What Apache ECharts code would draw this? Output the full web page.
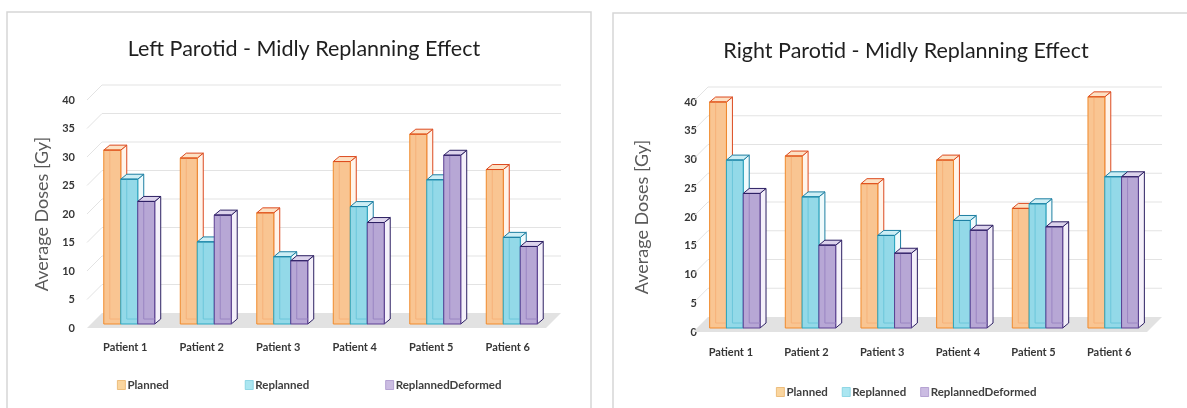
<!DOCTYPE html>
<html>
<head>
<meta charset="utf-8">
<script src="https://cdn.jsdelivr.net/npm/echarts@6/dist/echarts.min.js"></script>
<style>
  html, body { margin: 0; padding: 0; background: #ffffff; }
  #chart { width: 1187px; height: 408px; }
</style>
</head>
<body>
<div id="chart"></div>
<script>
// Patients on the category axis
const patients = ['Patient 1', 'Patient 2', 'Patient 3', 'Patient 4', 'Patient 5', 'Patient 6'];
const seriesNames = ['Planned', 'Replanned', 'ReplannedDeformed'];

// Left parotid average doses [Gy]
const leftPlanned   = [30.5, 29.1, 19.5, 28.5, 33.3, 27.1];
const leftReplanned = [25.4, 14.4, 11.8, 20.6, 25.3, 15.2];
const leftDeformed  = [21.5, 19.1, 11.1, 17.8, 29.6, 13.6];

// Right parotid average doses [Gy]
const rightPlanned   = [39.3, 29.9, 25.1, 29.2, 20.8, 40.2];
const rightReplanned = [29.2, 22.8, 16.1, 18.7, 21.6, 26.3];
const rightDeformed  = [23.4, 14.4, 13.0, 17.0, 17.6, 26.3];

// Value axis ticks
const doseTicks = [0, 5, 10, 15, 20, 25, 30, 35, 40];

const FONT = 'Lato, "Open Sans", sans-serif';

// Look of each prism-shaped bar
const barLook = [
  { front: '#F9C592', top: '#FDE1C4', side: '#FFF4EA', edge: '#F08A2C', rim: '#DC4A1F', back: '#F6B27A' },
  { front: '#93D9E8', top: '#CDEEF5', side: '#EFFAFC', edge: '#2AA6C0', rim: '#1D7FA2', back: '#6CC6DA' },
  { front: '#B7A7D5', top: '#DCD3EC', side: '#F4F0FA', edge: '#5A3E92', rim: '#2C1F62', back: '#9A86C2' }
];
const legendLook = [
  { color: '#FAD59E', borderColor: '#E9B36A' },
  { color: '#ABE6F1', borderColor: '#7FCFE0' },
  { color: '#CBBCE2', borderColor: '#A994CC' }
];

// Wall depth (back wall offset) and bar depth
const WALL = { dx: 15, dy: -15 };
const BAR_SHIFT = { dx: 4, dy: -4 };
const BAR_DEPTH = { dx: 6, dy: -5 };

function wallRenderer(params, api) {
  const cs = params.coordSys;
  const v = api.value(1);
  const y = api.coord([0, v])[1];
  const x0 = cs.x, x1 = cs.x + cs.width;
  const children = [];
  if (v === 0) {
    children.push({
      type: 'polygon',
      shape: { points: [[x0, y], [x1, y], [x1 + WALL.dx, y + WALL.dy], [x0 + WALL.dx, y + WALL.dy]] },
      style: { fill: '#E2E2E2' }
    });
  } else {
    children.push({
      type: 'line',
      shape: { x1: x0, y1: y, x2: x0 + WALL.dx, y2: y + WALL.dy },
      style: { stroke: '#E3E3E3', lineWidth: 1 }
    });
    children.push({
      type: 'line',
      shape: { x1: x0 + WALL.dx, y1: y + WALL.dy, x2: x1 + WALL.dx, y2: y + WALL.dy },
      style: { stroke: '#E3E3E3', lineWidth: 1 }
    });
  }
  return { type: 'group', children: children };
}

function barRenderer(slot) {
  const look = barLook[slot];
  return function (params, api) {
    const c = api.value(0), v = api.value(1);
    const base = api.coord([c, 0]);
    const top = api.coord([c, v]);
    const bw = api.size([1, 0])[0] * 0.222;
    const x = base[0] - 1.5 * bw + slot * bw + BAR_SHIFT.dx;
    const yb = base[1] + BAR_SHIFT.dy;
    const yt = top[1] + BAR_SHIFT.dy;
    const ddx = BAR_DEPTH.dx, ddy = BAR_DEPTH.dy;
    return {
      type: 'group',
      children: [
        { type: 'polygon',
          shape: { points: [[x + bw, yt], [x + bw + ddx, yt + ddy], [x + bw + ddx, yb + ddy], [x + bw, yb]] },
          style: { fill: look.side, stroke: look.rim, lineWidth: 1 } },
        { type: 'polygon',
          shape: { points: [[x, yt], [x + bw, yt], [x + bw + ddx, yt + ddy], [x + ddx, yt + ddy]] },
          style: { fill: look.top, stroke: look.rim, lineWidth: 1 } },
        { type: 'rect',
          shape: { x: x, y: yt, width: bw, height: yb - yt },
          style: { fill: look.front, stroke: look.edge, lineWidth: 1 } },
        { type: 'polyline',
          shape: { points: [[x + ddx, yt], [x + ddx, yb + ddy], [x + bw, yb + ddy]] },
          style: { fill: null, stroke: look.back, lineWidth: 1 } },
        { type: 'line',
          shape: { x1: x, y1: yt, x2: x + bw, y2: yt },
          style: { stroke: look.rim, lineWidth: 1 } }
      ]
    };
  };
}

function pairs(values) {
  return values.map(function (v, i) { return [i, v]; });
}

function panelSeries(axisIndex, valueSets) {
  const list = [{
    type: 'custom',
    xAxisIndex: axisIndex,
    yAxisIndex: axisIndex,
    renderItem: wallRenderer,
    data: doseTicks.map(function (t) { return [0, t]; }),
    silent: true,
    z: 1
  }];
  valueSets.forEach(function (values, slot) {
    list.push({
      type: 'custom',
      name: seriesNames[slot],
      xAxisIndex: axisIndex,
      yAxisIndex: axisIndex,
      renderItem: barRenderer(slot),
      data: pairs(values),
      itemStyle: { color: legendLook[slot].color },
      z: 2 + slot
    });
  });
  return list;
}

function categoryAxis(gridIndex, margin) {
  return {
    type: 'category',
    gridIndex: gridIndex,
    data: patients,
    axisLine: { show: false },
    axisTick: { show: false },
    splitLine: { show: false },
    axisLabel: { margin: margin, color: '#363636', fontFamily: FONT, fontWeight: 'bold', fontSize: 11 }
  };
}

function valueAxis(gridIndex, margin, nameGap) {
  return {
    type: 'value',
    gridIndex: gridIndex,
    min: 0, max: 40, interval: 5,
    axisLine: { show: false },
    axisTick: { show: false },
    splitLine: { show: false },
    axisLabel: { margin: margin, color: '#363636', fontFamily: FONT, fontWeight: 'bold', fontSize: 11 },
    name: 'Average Doses [Gy]',
    nameLocation: 'middle',
    nameRotate: 90,
    nameGap: nameGap,
    nameTextStyle: { color: '#595959', fontFamily: FONT, fontSize: 18 }
  };
}

function legendBlock(left, top, gap) {
  return {
    left: left, top: top,
    orient: 'horizontal',
    icon: 'rect',
    itemWidth: 8, itemHeight: 9,
    itemGap: gap,
    selectedMode: false,
    textStyle: { color: '#404040', fontFamily: FONT, fontWeight: 'bold', fontSize: 11.5, padding: [0, 0, 0, -3] },
    data: seriesNames.map(function (n, i) {
      return { name: n, itemStyle: { color: legendLook[i].color, borderColor: legendLook[i].borderColor, borderWidth: 0.8 } };
    })
  };
}

const chart = echarts.init(document.getElementById('chart'), null, { renderer: 'canvas' });

chart.setOption({
  backgroundColor: '#ffffff',
  animation: false,
  graphic: [
    { type: 'rect', shape: { x: 7, y: 12, width: 584, height: 420 }, style: { fill: '#ffffff', stroke: '#D6D6D6', lineWidth: 1.5 }, z: -10 },
    { type: 'rect', shape: { x: 613, y: 13, width: 600, height: 420 }, style: { fill: '#ffffff', stroke: '#D6D6D6', lineWidth: 1.5 }, z: -10 }
  ],
  title: [
    { text: 'Left Parotid - Midly Replanning Effect', left: 299, top: 33, textAlign: 'center',
      textStyle: { color: '#1f1f1f', fontFamily: FONT, fontWeight: 'normal', fontSize: 21.5 } },
    { text: 'Right Parotid - Midly Replanning Effect', left: 901, top: 35, textAlign: 'center',
      textStyle: { color: '#1f1f1f', fontFamily: FONT, fontWeight: 'normal', fontSize: 21.5 } }
  ],
  legend: [
    legendBlock(112, 374, 76),
    legendBlock(771, 381, 14)
  ],
  grid: [
    { left: 87, top: 100, width: 459, height: 228 },
    { left: 693, top: 102, width: 454, height: 230 }
  ],
  xAxis: [categoryAxis(0, 14), categoryAxis(1, 15)],
  yAxis: [valueAxis(0, 12, 36), valueAxis(1, -4, 42)],
  series: panelSeries(0, [leftPlanned, leftReplanned, leftDeformed])
    .concat(panelSeries(1, [rightPlanned, rightReplanned, rightDeformed]))
});
</script>
</body>
</html>
